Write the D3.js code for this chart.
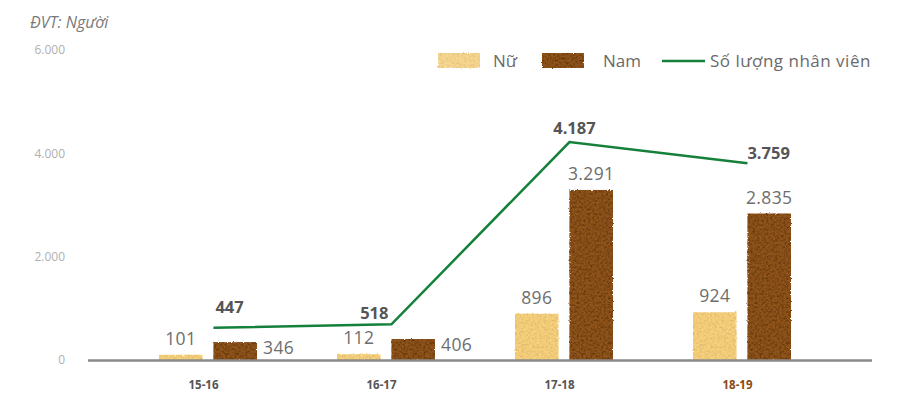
<!DOCTYPE html>
<html>
<head>
<meta charset="utf-8">
<script src="https://cdn.jsdelivr.net/npm/d3@7/dist/d3.min.js"></script>
<style>
  html, body { margin: 0; padding: 0; background: #fff; }
  svg { display: block; font-family: "Open Sans", "Noto Sans", sans-serif; }
</style>
</head>
<body>
<svg id="chart" width="906" height="403"></svg>
<script>
// Staff headcount by fiscal year
const years = ["15-16", "16-17", "17-18", "18-19"];
const female = [101, 112, 896, 924];      // Nữ
const male = [346, 406, 3291, 2835];      // Nam
const total = [447, 518, 4187, 3759];     // Số lượng nhân viên
const yTicks = [0, 2000, 4000, 6000];

const fmt = d3.formatLocale({ decimal: ",", thousands: ".", grouping: [3], currency: ["", ""] }).format(",d");

const svg = d3.select("#chart");
const defs = svg.append("defs");

// grainy texture filters for the bars
function grain(id, seed, darkAlpha, freq) {
  const f = defs.append("filter").attr("id", id)
    .attr("x", "-10%").attr("y", "-10%").attr("width", "120%").attr("height", "120%");
  f.append("feTurbulence").attr("type", "fractalNoise").attr("baseFrequency", freq)
    .attr("numOctaves", 3).attr("seed", seed).attr("result", "edgeNoise");
  f.append("feDisplacementMap").attr("in", "SourceGraphic").attr("in2", "edgeNoise")
    .attr("scale", 2.5).attr("xChannelSelector", "R").attr("yChannelSelector", "G").attr("result", "rough");
  f.append("feTurbulence").attr("type", "fractalNoise").attr("baseFrequency", 0.45)
    .attr("numOctaves", 2).attr("seed", seed + 7).attr("result", "noise");
  f.append("feColorMatrix").attr("in", "noise").attr("type", "matrix")
    .attr("values", `0 0 0 0 0  0 0 0 0 0  0 0 0 0 0  ${darkAlpha * 3} 0 0 0 ${-darkAlpha * 1.2}`)
    .attr("result", "spots");
  f.append("feComposite").attr("in", "spots").attr("in2", "rough").attr("operator", "in").attr("result", "spotsIn");
  const m = f.append("feMerge");
  m.append("feMergeNode").attr("in", "rough");
  m.append("feMergeNode").attr("in", "spotsIn");
}
grain("grainNu", 4, 0.18, 0.6);
grain("grainNam", 11, 0.45, 0.6);

const colors = { "Nữ": "#f7d07c", "Nam": "#8f521f" };
const filters = { "Nữ": "url(#grainNu)", "Nam": "url(#grainNam)" };

const baseY = 360;
// bars use the visible axis; the total line sits on its own (hidden) secondary scale
const y = d3.scaleLinear().domain([0, 6000]).range([baseY, 50]);
const yLine = d3.scaleLinear().domain([0, 6000]).range([350, 52]);
const x0 = d3.scalePoint().domain(years).range([208, 742]);
const keys = ["Nữ", "Nam"];
const x1 = d3.scaleBand().domain(keys).range([-49, 49]).paddingInner(0.2);

// unit note
svg.append("text").attr("x", 30).attr("y", 28)
  .attr("font-size", 16).attr("font-style", "italic").attr("fill", "#7a7a7a")
  .text("ĐVT: Người");

// y axis tick labels
const yAxis = d3.axisLeft(y).tickValues(yTicks).tickSize(0).tickPadding(0).tickFormat(fmt);
const gy = svg.append("g").attr("transform", "translate(65,0)").call(yAxis);
gy.select(".domain").remove();
gy.selectAll("text").attr("font-size", 12).attr("fill", "#b0b0b0")
  .attr("font-family", "\"Open Sans\", sans-serif");

// bars
const rows = years.map((yr, i) => ({ year: yr, i, values: [
  { key: "Nữ", value: female[i] }, { key: "Nam", value: male[i] }] }));

const groups = svg.append("g").selectAll("g").data(rows).join("g")
  .attr("transform", d => `translate(${x0(d.year)},0)`);

groups.selectAll("rect").data(d => d.values).join("rect")
  .attr("x", d => x1(d.key))
  .attr("y", d => y(d.value))
  .attr("width", x1.bandwidth())
  .attr("height", d => baseY - y(d.value))
  .attr("fill", d => colors[d.key])
  .attr("filter", d => filters[d.key]);

// value labels: above the bar, or beside it when the bar is short
groups.selectAll("text.val").data(d => d.values).join("text")
  .attr("class", "val")
  .each(function (d) {
    const t = d3.select(this);
    const beside = d.key === "Nam" && d.value < 500;
    if (beside) {
      t.attr("x", x1(d.key) + x1.bandwidth() + 6).attr("y", y(d.value) + 12).attr("text-anchor", "start");
    } else {
      t.attr("x", x1(d.key) + x1.bandwidth() / 2).attr("y", y(d.value) - 10).attr("text-anchor", "middle");
    }
  })
  .attr("font-size", 17.5).attr("font-weight", 400).attr("letter-spacing", 0.4).attr("fill", "#6e6e6e")
  .text(d => fmt(d.value));

// baseline
svg.append("line").attr("x1", 88).attr("x2", 872).attr("y1", baseY + 0.5).attr("y2", baseY + 0.5)
  .attr("stroke", "#8a8a8a").attr("stroke-width", 2.5);

// x axis labels
const xAxis = d3.axisBottom(x0).tickSize(0).tickPadding(0);
const gx = svg.append("g").attr("transform", "translate(-5,381)").call(xAxis);
gx.select(".domain").remove();
gx.selectAll("text").attr("font-size", 11.5).attr("font-weight", 700)
  .attr("font-family", "\"Open Sans\", sans-serif")
  .attr("fill", d => d === "18-19" ? "#8a4a14" : "#555");

// total headcount line, anchored at the left edge of the Nam bar
const lx = d => x0(d.year) + x1("Nam");
const line = d3.line().x(d => lx(d)).y(d => yLine(d.value));
const totals = years.map((yr, i) => ({ year: yr, value: total[i] }));
svg.append("path").datum(totals).attr("d", line)
  .attr("fill", "none").attr("stroke", "#14803a").attr("stroke-width", 2.5);

// total labels
const totalLabelPlacement = [
  { dx: 2, dy: -15, anchor: "start" },
  { dx: -3, dy: -5, anchor: "end" },
  { dx: 5, dy: -8, anchor: "middle" },
  { dx: 0, dy: -4, anchor: "start" }
];
svg.append("g").selectAll("text").data(totals).join("text")
  .attr("x", (d, i) => lx(d) + totalLabelPlacement[i].dx)
  .attr("y", (d, i) => yLine(d.value) + totalLabelPlacement[i].dy)
  .attr("text-anchor", (d, i) => totalLabelPlacement[i].anchor)
  .attr("font-size", 16.5).attr("font-weight", 700).attr("fill", "#555")
  .text(d => fmt(d.value));

// legend
const legend = svg.append("g");
legend.append("rect").attr("x", 438).attr("y", 53).attr("width", 42).attr("height", 15)
  .attr("fill", colors["Nữ"]).attr("filter", filters["Nữ"]).attr("opacity", 0.85);
legend.append("text").attr("x", 493).attr("y", 67).attr("font-size", 17).attr("fill", "#6a6a6a").text("Nữ");
legend.append("rect").attr("x", 542).attr("y", 53).attr("width", 42).attr("height", 15)
  .attr("fill", colors["Nam"]).attr("filter", filters["Nam"]);
legend.append("text").attr("x", 603).attr("y", 67).attr("font-size", 17).attr("fill", "#6a6a6a").text("Nam");
legend.append("line").attr("x1", 662).attr("x2", 705).attr("y1", 61).attr("y2", 61)
  .attr("stroke", "#14803a").attr("stroke-width", 2.5);
legend.append("text").attr("x", 710).attr("y", 67).attr("font-size", 17).attr("letter-spacing", 0.5)
  .attr("fill", "#6a6a6a").text("Số lượng nhân viên");
</script>
</body>
</html>
